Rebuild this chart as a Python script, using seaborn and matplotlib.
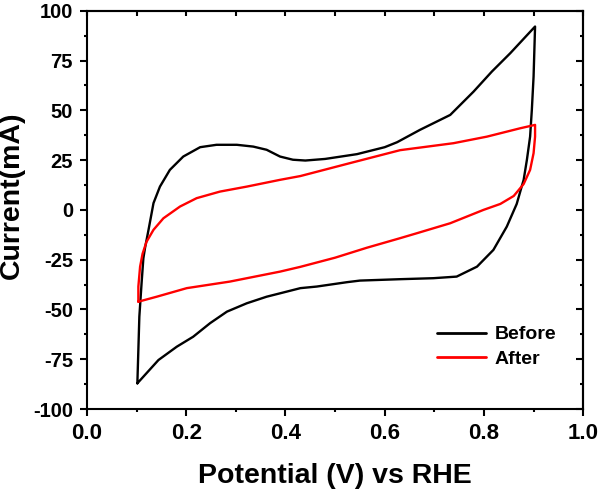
import numpy as np
import pandas as pd
import matplotlib
matplotlib.use("Agg")
import matplotlib.pyplot as plt
import seaborn as sns
from matplotlib.ticker import MultipleLocator, FormatStrFormatter

# --- Data (closed CV loops, in scan order) ---
before_v = [0.1015, 0.1055, 0.110, 0.1136, 0.117, 0.124, 0.134, 0.147, 0.167, 0.194,
            0.228, 0.261, 0.302, 0.335, 0.362, 0.389, 0.415, 0.440, 0.480, 0.544,
            0.600, 0.625, 0.671, 0.732, 0.779, 0.816, 0.853, 0.903, 0.900, 0.8965,
            0.893, 0.8865, 0.880, 0.876, 0.866, 0.846, 0.819, 0.786, 0.745, 0.698,
            0.631, 0.550, 0.524, 0.463, 0.430, 0.389, 0.362, 0.322, 0.282, 0.248,
            0.214, 0.181, 0.144, 0.120, 0.1015]
before_i = [-87.1, -53.6, -36.8, -24.3, -19, -10, 3.4, 11.7, 20.1, 26.8,
            31.5, 32.7, 32.7, 31.8, 30.2, 26.8, 25.2, 24.8, 25.6, 28,
            31.5, 34, 40.2, 47.7, 59.4, 69.5, 78.7, 92.1, 67, 50.3,
            36.8, 25.1, 15.1, 11.7, 3, -8.4, -20.1, -28.5, -33.5, -34.3,
            -34.8, -35.5, -36.3, -38.5, -39.3, -41.9, -43.6, -46.9, -51.1, -56.9,
            -63.7, -68.7, -75.4, -82, -87.1]

after_v = [0.1035, 0.1035, 0.107, 0.112, 0.120, 0.134, 0.154, 0.1875, 0.221, 0.268,
           0.322, 0.389, 0.430, 0.530, 0.631, 0.671, 0.7385, 0.806, 0.873, 0.903,
           0.903, 0.900, 0.893, 0.880, 0.860, 0.833, 0.799, 0.732, 0.665, 0.631,
           0.564, 0.500, 0.430, 0.389, 0.288, 0.201, 0.1405, 0.1035]
after_i = [-46.1, -38.5, -28.5, -22, -16, -10, -4.2, 1.7, 5.9, 9.2,
           11.7, 15.1, 17, 23.5, 30, 31.3, 33.5, 36.8, 41, 42.7,
           36.8, 28.5, 20.1, 13, 7, 3, 0, -6.7, -11.7, -14.2,
           -19, -24, -28.6, -31, -36, -39.3, -43.6, -46.1]

df = pd.concat([
    pd.DataFrame({"Potential": before_v, "Current": before_i, "Sample": "Before"}),
    pd.DataFrame({"Potential": after_v, "Current": after_i, "Sample": "After"}),
], ignore_index=True)

# --- Style ---
sns.set_style("ticks")
plt.rcParams["font.family"] = ["Liberation Sans", "DejaVu Sans"]
plt.rcParams["font.weight"] = "bold"
plt.rcParams["axes.unicode_minus"] = False
plt.rcParams["text.color"] = "black"
plt.rcParams["axes.labelcolor"] = "black"

fig = plt.figure(figsize=(6.0, 4.91), dpi=100)
ax = fig.add_axes([0.145, 0.167, 0.827, 0.811])

sns.lineplot(data=df, x="Potential", y="Current", hue="Sample",
             palette={"Before": "black", "After": "#ff0000"},
             sort=False, estimator=None, linewidth=1.7, ax=ax)

ax.set_xlim(0.0, 1.0)
ax.set_ylim(-100, 100)
ax.xaxis.set_major_locator(MultipleLocator(0.2))
ax.xaxis.set_minor_locator(MultipleLocator(0.1))
ax.yaxis.set_major_locator(MultipleLocator(25))
ax.yaxis.set_minor_locator(MultipleLocator(12.5))
ax.xaxis.set_major_formatter(FormatStrFormatter("%.1f"))

for s in ax.spines.values():
    s.set_linewidth(1.5)
    s.set_color("black")

ax.tick_params(which="major", direction="out", length=5, width=1.5,
               colors="black", pad=5)
ax.tick_params(which="minor", direction="out", length=2.5, width=1.5, colors="black")
ax.tick_params(axis="x", which="major", labelsize=16, pad=5)
ax.tick_params(axis="y", which="major", labelsize=14.5, pad=5)
for lab in ax.get_xticklabels() + ax.get_yticklabels():
    lab.set_fontweight("bold")

# Origin-style inward ticks on the top and right
sec_x = ax.secondary_xaxis("top")
sec_x.set_xticks(np.arange(0.0, 1.01, 0.1))
sec_x.tick_params(direction="in", length=3.5, width=1.5, labeltop=False, colors="black")
sec_x.spines["top"].set_linewidth(1.5)
sec_y = ax.secondary_yaxis("right")
sec_y.yaxis.set_major_locator(MultipleLocator(25))
sec_y.yaxis.set_minor_locator(MultipleLocator(12.5))
sec_y.tick_params(which="major", direction="in", length=5, width=1.5,
                  labelright=False, colors="black")
sec_y.tick_params(which="minor", direction="in", length=2.5, width=1.5, colors="black")
sec_y.spines["right"].set_linewidth(1.5)

ax.set_xlabel("Potential (V) vs RHE", fontsize=20.5, fontweight="bold")
ax.set_ylabel("Current(mA)", fontsize=20.5, fontweight="bold")
ax.xaxis.set_label_coords(0.5, -0.135)
ax.yaxis.set_label_coords(-0.125, 0.538)

leg = ax.legend(loc="upper left", bbox_to_anchor=(0.706, 0.209), frameon=False,
                fontsize=14, handlelength=2.5, handletextpad=0.45,
                labelspacing=0.35, borderpad=0, borderaxespad=0)
for t in leg.get_texts():
    t.set_fontweight("bold")
for l in leg.get_lines():
    l.set_linewidth(2.0)

fig.savefig("out.png", dpi=100)
